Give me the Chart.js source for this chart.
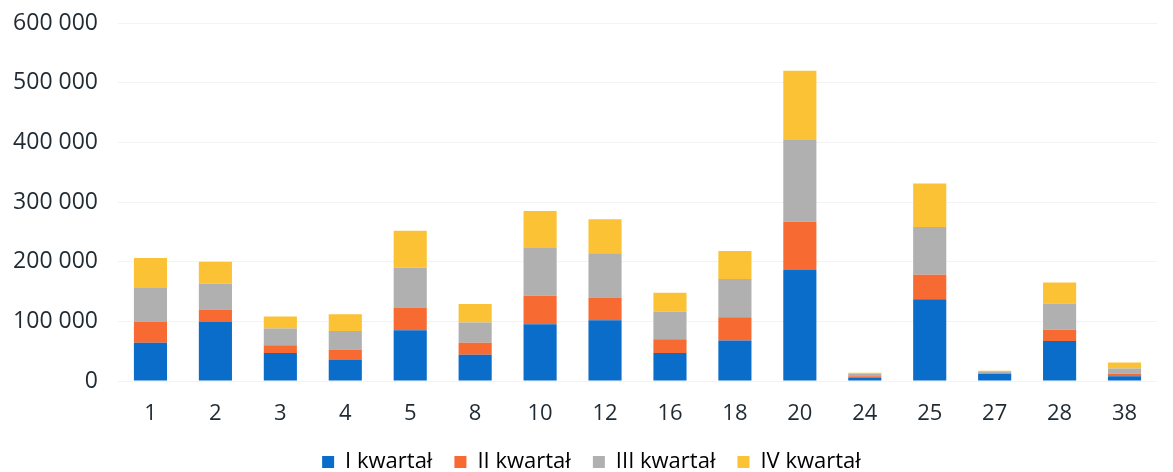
<!DOCTYPE html>
<html>
<head>
<meta charset="utf-8">
<script src="https://cdn.jsdelivr.net/npm/chart.js@4/dist/chart.umd.min.js"></script>
<style>
	html, body { margin: 0; padding: 0; background: #fff; }
	#wrap { width: 1173px; height: 472px; }
</style>
</head>
<body>
<div id="wrap"><canvas id="canvas01" width="1173" height="472"></canvas></div>
<script>
// dane
var kategorie = ['1', '2', '3', '4', '5', '8', '10', '12', '16', '18', '20', '24', '25', '27', '28', '38'];
var kwartal1 = [64000, 99000, 47000, 35000, 85000, 44000, 95000, 102000, 47000, 68000, 186000, 6000, 137000, 12000, 67000, 8000];
var kwartal2 = [35000, 21000, 13000, 18000, 38000, 20000, 48000, 38000, 23000, 39000, 81000, 2000, 41000, 1000, 19000, 4000];
var kwartal3 = [57000, 43000, 28000, 31000, 67000, 34000, 80000, 74000, 46000, 64000, 137000, 4000, 80000, 2000, 44000, 9000];
var kwartal4 = [50000, 37000, 20000, 28000, 62000, 31000, 62000, 57000, 32000, 47000, 116000, 2000, 73000, 2000, 35000, 10000];
var etykiety = ['I kwartał', 'II kwartał', 'III kwartał', 'IV kwartał'];
var yTicks = [0, 100000, 200000, 300000, 400000, 500000, 600000];

var fontTxt = '"Open Sans", "DejaVu Sans", sans-serif';

function gradBar(c1, c2, flat) {
	return function (context) {
		var el = context.element;
		if (!el || el.y == null || el.base == null || isNaN(el.y)) return flat;
		var ctx = context.chart.ctx;
		var g = ctx.createLinearGradient(0, el.y, 0, el.base);
		g.addColorStop(0, c1);
		g.addColorStop(1, c2);
		return g;
	};
}

// legenda niżej, bliżej krawędzi i lekko w prawo
const legend_fit = {
	id: 'legend_fit',
	beforeInit(chart) {
		const fitOrig = chart.legend.fit;
		chart.legend.fit = function () {
			fitOrig.bind(chart.legend)();
			this.height -= 11;
		};
	},
	afterLayout(chart) {
		chart.legend.left += 13;
		chart.legend.right += 13;
	}
};

var chartData = {
	labels: kategorie,
	datasets: [{
		label: etykiety[0],
		data: kwartal1,
		backgroundColor: '#0a6dca',
		borderWidth: 0,
	},
	{
		label: etykiety[1],
		data: kwartal2,
		backgroundColor: '#f76a32',
		borderWidth: 0,
	},
	{
		label: etykiety[2],
		data: kwartal3,
		backgroundColor: gradBar('#c4c4c4', '#9d9d9d', '#b0b0b0'),
		borderWidth: 0,
	},
	{
		label: etykiety[3],
		data: kwartal4,
		backgroundColor: gradBar('#ffd23c', '#f8aa2e', '#fcc236'),
		borderWidth: 0,
	}]
};

var config01 = {
	type: 'bar',
	data: chartData,
	options: {
		responsive: false,
		animation: false,
		maintainAspectRatio: false,
		layout: {
			padding: { left: 0, right: 16, top: 0, bottom: 0 }
		},
		datasets: {
			bar: {
				categoryPercentage: 0.51,
				barPercentage: 1.0,
			}
		},
		plugins: {
			legend: {
				position: 'bottom',
				labels: {
					boxWidth: 12,
					boxHeight: 12,
					padding: 22,
					color: '#1f2a33',
					font: { family: fontTxt, size: 22 },
					generateLabels: function (chart) {
						var cols = ['#0a6dca', '#f76a32', '#b0b0b0', '#fcc236'];
						return chart.data.datasets.map(function (ds, i) {
							return {
								text: ds.label,
								fillStyle: cols[i],
								strokeStyle: cols[i],
								lineWidth: 0,
								datasetIndex: i,
								hidden: false,
							};
						});
					}
				}
			},
			tooltip: { enabled: false },
		},
		scales: {
			x: {
				stacked: true,
				grid: { display: false },
				border: { display: false },
				afterFit: function (scale) { scale.height = 48; },
				ticks: {
					color: '#1f2a33',
					padding: 12,
					font: { family: fontTxt, size: 22 },
				},
			},
			y: {
				stacked: true,
				min: 0,
				max: 600000,
				afterFit: function (scale) {
					scale.width = 118;
					scale.paddingTop = 23;
					scale.paddingBottom = 0;
				},
				afterBuildTicks: function (scale) {
					scale.ticks = yTicks.map(function (v) { return { value: v }; });
				},
				grid: { color: '#f3f3f3', drawTicks: false },
				border: { display: false },
				ticks: {
					padding: 20,
					color: '#1f2a33',
					font: { family: fontTxt, size: 23 },
					callback: function (val) {
						return String(val).replace(/\B(?=(\d{3})+(?!\d))/g, ' ');
					}
				},
			}
		},
	},
	plugins: [legend_fit]
};

var ctx01 = document.getElementById('canvas01').getContext('2d');
var graf01 = new Chart(ctx01, config01);
</script>
</body>
</html>
